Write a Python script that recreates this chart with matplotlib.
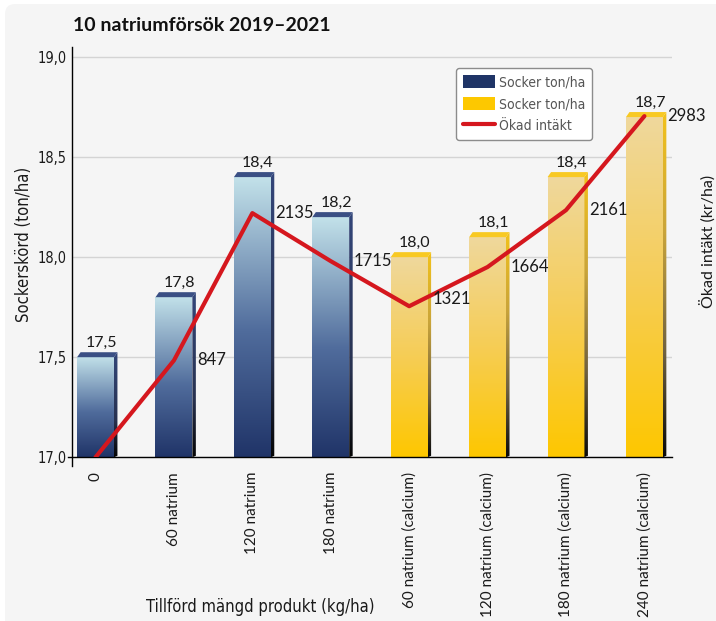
import matplotlib
matplotlib.use("Agg")
import matplotlib.pyplot as plt
import numpy as np
from matplotlib import font_manager as fm
from matplotlib.colors import LinearSegmentedColormap
from matplotlib.patches import Polygon, Patch, FancyBboxPatch
from matplotlib.lines import Line2D
from matplotlib.transforms import IdentityTransform

# ---------------- data ----------------
categories = ["0", "60 natrium", "120 natrium", "180 natrium",
              "60 natrium (calcium)", "120 natrium (calcium)",
              "180 natrium (calcium)", "240 natrium (calcium)"]
sugar_yield = [17.5, 17.8, 18.4, 18.2, 18.0, 18.1, 18.4, 18.7]      # ton/ha
extra_income = [0, 847, 2135, 1715, 1321, 1664, 2161, 2983]         # kr/ha
product_group = [0, 0, 0, 0, 1, 1, 1, 1]                            # 0 natrium, 1 natrium (calcium)
legend_labels = ["Socker ton/ha", "Socker ton/ha", "Ökad intäkt"]
y_ticks = [17.0, 17.5, 18.0, 18.5, 19.0]
title_text = "10 natriumförsök 2019–2021"
ylabel_left = "Sockerskörd (ton/ha)"
ylabel_right = "Ökad intäkt (kr/ha)"
xlabel_text = "Tillförd mängd produkt (kg/ha)"

# ---------------- fonts ----------------
names = {f.name for f in fm.fontManager.ttflist}
def pick(*cands):
    for c in cands:
        if c in names:
            return c
    return "DejaVu Sans"
REG = pick("Lato", "Open Sans", "Noto Sans")
if "Liberation Sans Narrow" in names:
    COND_FAM, COND_STRETCH, COND_SCALE = "Liberation Sans Narrow", "normal", 1.0
elif any(f.name == "DejaVu Sans" and str(f.stretch) in ("condensed", "semi-condensed")
         for f in fm.fontManager.ttflist):
    COND_FAM, COND_STRETCH, COND_SCALE = "DejaVu Sans", "condensed", 0.95
else:
    COND_FAM, COND_STRETCH, COND_SCALE = REG, "normal", 0.88

def reg(size, weight="normal"):
    return fm.FontProperties(family=REG, size=size, weight=weight)
def cond(size):
    return fm.FontProperties(family=COND_FAM, stretch=COND_STRETCH, size=size * COND_SCALE)

# ---------------- style ----------------
NAVY = "#1f3466"
GOLD = "#fdc800"
RED = "#d5171e"
TXT = "#1a1a1a"
Y0 = 17.0
YTOP = 19.05
XLIM = (-0.296, 7.348)
BAR_W = 0.47
DX_PX, DY_PX = 3.5, 5.0

front_cmaps = [
    LinearSegmentedColormap.from_list("nf", [(0, "#203468"), (0.45, "#506c9c"), (1, "#c3e2ea")]),
    LinearSegmentedColormap.from_list("yf", [(0, "#fec700"), (0.5, "#f6cd55"), (1, "#efd89d")]),
]
side_cmaps = [
    LinearSegmentedColormap.from_list("ns", [(0, "#050505"), (0.35, "#283250"), (1, "#33467a")]),
    LinearSegmentedColormap.from_list("ys", [(0, "#0a0a0a"), (0.3, "#6f6140"), (0.65, "#c9a43a"), (1, "#f3c21a")]),
]
top_colors = ["#3a4f84", "#f8c923"]
legend_colors = [NAVY, GOLD]

W_PX, H_PX = 716, 621
fig = plt.figure(figsize=(W_PX / 100, H_PX / 100), dpi=100, facecolor="white")
panel = FancyBboxPatch((5, -30), W_PX + 40, H_PX - 4 + 30,
                       boxstyle="round,pad=0,rounding_size=10",
                       transform=IdentityTransform(), facecolor="#f5f5f5",
                       edgecolor="none", zorder=-10)
fig.add_artist(panel)

ax_l, ax_b = 72.3 / W_PX, (H_PX - 457.3) / H_PX
ax_w, ax_h = (671.7 - 72.3) / W_PX, 410.3 / H_PX
ax = fig.add_axes([ax_l, ax_b, ax_w, ax_h])
ax.set_facecolor("none")

px_x = ax_w * W_PX / (XLIM[1] - XLIM[0])
px_y = ax_h * H_PX / (YTOP - Y0)
dx, dy = DX_PX / px_x, DY_PX / px_y

x = np.arange(len(categories))
heights = np.array(sugar_yield) - Y0
bars = ax.bar(x, heights, bottom=Y0, width=BAR_W, color="none", edgecolor="none", zorder=3)

grad = np.linspace(0, 1, 256).reshape(-1, 1)
for i, rect in enumerate(bars.patches):
    g = product_group[i]
    x0, x1 = rect.get_x(), rect.get_x() + rect.get_width()
    yb, yt = rect.get_y(), rect.get_y() + rect.get_height()
    im = ax.imshow(grad, extent=[x0, x1, yb, yt], origin="lower", cmap=front_cmaps[g],
                   aspect="auto", interpolation="bilinear", zorder=3)
    im.set_clip_path(rect)
    side = Polygon([(x1, yb), (x1 + dx, yb + dy * 0.3), (x1 + dx, yt + dy), (x1, yt)],
                   closed=True, facecolor="none", edgecolor="none", zorder=3)
    ax.add_patch(side)
    ims = ax.imshow(grad, extent=[x1, x1 + dx, yb, yt + dy], origin="lower", cmap=side_cmaps[g],
                    aspect="auto", interpolation="bilinear", zorder=3)
    ims.set_clip_path(side)
    top = Polygon([(x0, yt), (x0 + dx, yt + dy), (x1 + dx, yt + dy), (x1, yt)],
                  closed=True, facecolor=top_colors[g], edgecolor="none", zorder=3.2)
    ax.add_patch(top)
    ax.annotate(f"{sugar_yield[i]:.1f}".replace(".", ","), (x[i], sugar_yield[i]),
                xytext=(4, 7.5), textcoords="offset points", ha="center", va="baseline",
                fontproperties=reg(11.5), color=TXT, zorder=6)

ax.set_xlim(*XLIM)
ax.set_ylim(Y0, YTOP)
ax.set_yticks(y_ticks)
ax.set_yticklabels([f"{t:.1f}".replace(".", ",") for t in y_ticks])
ax.set_xticks(x)
ax.set_xticklabels(categories, rotation=90)
for lab in ax.get_yticklabels():
    lab.set_fontproperties(cond(11))
    lab.set_color(TXT)
for lab in ax.get_xticklabels():
    lab.set_fontproperties(reg(11))
    lab.set_color(TXT)
ax.tick_params(axis="both", length=0)
ax.tick_params(axis="y", pad=4.3)
ax.tick_params(axis="x", pad=10.5)
ax.grid(axis="y", color="#d4d4d4", lw=1.0)
ax.set_axisbelow(True)
for s in ax.spines.values():
    s.set_visible(False)
ax.add_line(Line2D([0, 0], [-9 / 410.3, 1], transform=ax.transAxes, color="black",
                   lw=1.0, clip_on=False, zorder=4))
ax.add_line(Line2D([-4 / 599.4, 1], [0, 0], transform=ax.transAxes, color="black",
                   lw=1.0, clip_on=False, zorder=4))

ax.set_ylabel(ylabel_left, fontproperties=cond(12.5), color=TXT)
ax.yaxis.set_label_coords(-0.0656, 0.519)
ax.set_xlabel(xlabel_text, fontproperties=cond(12.5), color=TXT)
ax.xaxis.set_label_coords(0.314, (457.3 - 611.7) / 410.3)
ax.xaxis.label.set_va("baseline")

# ---------------- line on secondary axis ----------------
ax2 = ax.twinx()
ax2.set_ylim(0, 3500 * (YTOP - Y0) / (19.0 - Y0))
ax2.plot(x, extra_income, color=RED, lw=3.0, solid_joinstyle="round",
         solid_capstyle="round", zorder=5)
for s in ax2.spines.values():
    s.set_visible(False)
ax2.set_yticks([])
label_nudge = {4: 5.0}
for i, v in enumerate(extra_income):
    if v == 0:
        continue
    ax2.annotate(str(v), (x[i] + BAR_W / 2, v), xytext=(3.3, label_nudge.get(i, 0)),
                 textcoords="offset points", ha="left", va="center",
                 fontproperties=reg(12), color=TXT, zorder=6)
ax2.set_ylabel(ylabel_right, fontproperties=reg(11.5), color=TXT)
ax2.yaxis.set_label_coords(1.047, 0.526)

handles = [Patch(facecolor=c, edgecolor="none") for c in legend_colors]
handles.append(Line2D([], [], color=RED, lw=3.0, solid_capstyle="round"))
leg = ax2.legend(handles, legend_labels, loc="upper left", bbox_to_anchor=(0.640, 0.949),
                 prop=cond(10.5), frameon=True, fancybox=True, facecolor="white",
                 edgecolor="#8c8c8c", framealpha=1, handlelength=2.3, handleheight=1.1,
                 handletextpad=0.3, labelspacing=0.55, borderpad=0.5, borderaxespad=0)
leg.get_frame().set_linewidth(1.0)
for t in leg.get_texts():
    t.set_color("#555555")

fig.text(73 / W_PX, (H_PX - 30.7) / H_PX, title_text, ha="left", va="baseline",
         fontproperties=reg(14, "bold"), color="#111111")

fig.savefig("out.png", dpi=100, facecolor="white")
